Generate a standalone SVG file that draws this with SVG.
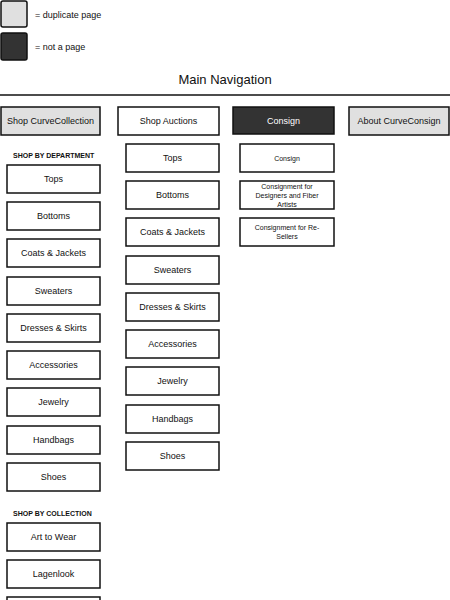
<svg xmlns="http://www.w3.org/2000/svg" width="450" height="600" viewBox="0 0 450 600">
<style>
text{font-family:"Liberation Sans",Arial,sans-serif;fill:#111;text-anchor:middle;dominant-baseline:central}
.b{fill:#fff;stroke:#111;stroke-width:1.5}
.dup{fill:#e0e0e0;stroke:#111;stroke-width:1.5}
.dark{fill:#333;stroke:#111;stroke-width:1.5}
.t{font-size:9px}
.s{font-size:7px}
.h{font-size:7px;font-weight:bold;text-anchor:start}
.lg{font-size:9px;text-anchor:start}
</style>
<rect width="450" height="600" fill="#fff"/>
<g id="legend">
<rect class="dup" x="1" y="1" width="26" height="26" rx="2"/>
<text class="lg" x="35" y="15">= duplicate page</text>
<rect class="dark" x="1" y="33" width="26" height="27" rx="2"/>
<text class="lg" x="35" y="47">= not a page</text>
</g>
<g id="title">
<text x="225" y="79" style="font-size:13px">Main Navigation</text>
<line x1="0" y1="95" x2="450" y2="95" stroke="#111" stroke-width="1.5"/>
</g>
<g id="connectors"></g>
<g id="shop-curvecollection"><rect class="dup" x="1" y="107" width="99" height="28"/><text class="t" x="50.5" y="121">Shop CurveCollection</text></g>
<g id="shop-auctions"><rect class="b" x="118" y="107" width="101" height="28"/><text class="t" x="168.5" y="121">Shop Auctions</text></g>
<g id="consign"><rect class="dark" x="233" y="107" width="101" height="27"/><text class="t" x="283.5" y="120.5" style="fill:#fff">Consign</text></g>
<g id="about"><rect class="dup" x="349" y="107" width="100" height="28"/><text class="t" x="399" y="121">About CurveConsign</text></g>

<g id="shop-by-department"><text class="h" x="13" y="155">SHOP BY DEPARTMENT</text></g>
<g id="l-tops"><rect class="b" x="7" y="165" width="93" height="28"/><text class="t" x="53.5" y="179">Tops</text></g>
<g id="l-bottoms"><rect class="b" x="7" y="202" width="93" height="28"/><text class="t" x="53.5" y="216">Bottoms</text></g>
<g id="l-coats"><rect class="b" x="7" y="239" width="93" height="28"/><text class="t" x="53.5" y="253">Coats &amp; Jackets</text></g>
<g id="l-sweaters"><rect class="b" x="7" y="277" width="93" height="28"/><text class="t" x="53.5" y="291">Sweaters</text></g>
<g id="l-dresses"><rect class="b" x="7" y="314" width="93" height="28"/><text class="t" x="53.5" y="328">Dresses &amp; Skirts</text></g>
<g id="l-accessories"><rect class="b" x="7" y="351" width="93" height="28"/><text class="t" x="53.5" y="365">Accessories</text></g>
<g id="l-jewelry"><rect class="b" x="7" y="388" width="93" height="28"/><text class="t" x="53.5" y="402">Jewelry</text></g>
<g id="l-handbags"><rect class="b" x="7" y="426" width="93" height="28"/><text class="t" x="53.5" y="440">Handbags</text></g>
<g id="l-shoes"><rect class="b" x="7" y="463" width="93" height="28"/><text class="t" x="53.5" y="477">Shoes</text></g>
<g id="shop-by-collection"><text class="h" x="13" y="513">SHOP BY COLLECTION</text></g>
<g id="l-art"><rect class="b" x="7" y="523" width="93" height="28"/><text class="t" x="53.5" y="537">Art to Wear</text></g>
<g id="l-lagenlook"><rect class="b" x="7" y="560" width="93" height="28"/><text class="t" x="53.5" y="574">Lagenlook</text></g>
<g id="l-next"><rect class="b" x="7" y="597" width="93" height="28"/></g>

<g id="a-tops"><rect class="b" x="126" y="144" width="93" height="28"/><text class="t" x="172.5" y="158">Tops</text></g>
<g id="a-bottoms"><rect class="b" x="126" y="181" width="93" height="28"/><text class="t" x="172.5" y="195">Bottoms</text></g>
<g id="a-coats"><rect class="b" x="126" y="218" width="93" height="28"/><text class="t" x="172.5" y="232">Coats &amp; Jackets</text></g>
<g id="a-sweaters"><rect class="b" x="126" y="256" width="93" height="28"/><text class="t" x="172.5" y="270">Sweaters</text></g>
<g id="a-dresses"><rect class="b" x="126" y="293" width="93" height="28"/><text class="t" x="172.5" y="307">Dresses &amp; Skirts</text></g>
<g id="a-accessories"><rect class="b" x="126" y="330" width="93" height="28"/><text class="t" x="172.5" y="344">Accessories</text></g>
<g id="a-jewelry"><rect class="b" x="126" y="367" width="93" height="28"/><text class="t" x="172.5" y="381">Jewelry</text></g>
<g id="a-handbags"><rect class="b" x="126" y="405" width="93" height="28"/><text class="t" x="172.5" y="419">Handbags</text></g>
<g id="a-shoes"><rect class="b" x="126" y="442" width="93" height="28"/><text class="t" x="172.5" y="456">Shoes</text></g>

<g id="c-consign"><rect class="b" x="240" y="144" width="94" height="28"/><text class="s" x="287" y="158">Consign</text></g>
<g id="c-designers"><rect class="b" x="240" y="181" width="94" height="28"/><text class="s" x="287" y="186">Consignment for</text><text class="s" x="287" y="195">Designers and Fiber</text><text class="s" x="287" y="204">Artists</text></g>
<g id="c-resellers"><rect class="b" x="240" y="218" width="94" height="28"/><text class="s" x="287" y="227.5">Consignment for Re-</text><text class="s" x="287" y="236.5">Sellers</text></g>
</svg>
